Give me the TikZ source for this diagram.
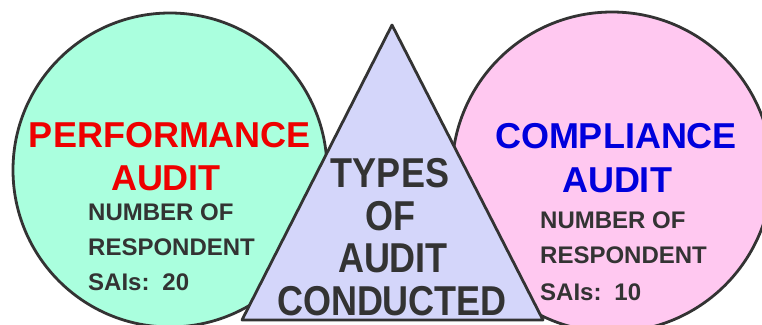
\documentclass[tikz,border=0pt]{standalone}
\usepackage{fontspec}
\setmainfont{Liberation Sans}
\definecolor{mint}{RGB}{170,255,222}
\definecolor{pinkc}{RGB}{255,200,240}
\definecolor{lav}{RGB}{212,214,250}
\definecolor{edgec}{RGB}{51,51,51}
\definecolor{redt}{RGB}{238,0,0}
\definecolor{bluet}{RGB}{0,0,220}
\definecolor{grayt}{RGB}{51,51,51}
\begin{document}
\begin{tikzpicture}[x=1pt,y=-1pt,
  shapeline/.style={draw=edgec,line width=2.8pt,line join=round},
  bigtxt/.style={inner sep=0pt,anchor=base,font=\bfseries\fontsize{36}{36}\selectfont},
  smalltxt/.style={inner sep=0pt,anchor=base west,text=grayt,font=\bfseries\fontsize{24}{24}\selectfont},
  tritxt/.style={inner sep=0pt,anchor=base,text=grayt,font=\bfseries\fontsize{36}{36}\selectfont}]
\useasboundingbox (0,0) rectangle (762,324);
\clip (0,0) rectangle (762,324);
\fill[white] (0,0) rectangle (762,324);
\draw[shapeline, fill=mint] (170,170) circle[radius=157];
\draw[shapeline, fill=pinkc] (612,172) circle[radius=160];
\coordinate (apex) at (392,25);
\coordinate (bl) at (242,320);
\coordinate (br) at (543,320);
\draw[shapeline, fill=lav] (apex) -- (bl) -- (br) -- cycle;
\node[bigtxt,text=redt] (perf) at (170,147) {PERFORMANCE};
\node[bigtxt,text=redt] (paudit) at (166,190) {AUDIT};
\node[smalltxt] (pn) at (88,220) {NUMBER OF};
\node[smalltxt] (pr) at (88,255) {RESPONDENT};
\node[smalltxt] (ps) at (88,290) {SAIs:\, 20};
\node[bigtxt,text=bluet] (comp) at (616,148) {COMPLIANCE};
\node[bigtxt,text=bluet] (caudit) at (617,192) {AUDIT};
\node[smalltxt] (cn) at (540,228) {NUMBER OF};
\node[smalltxt] (cr) at (540,263) {RESPONDENT};
\node[smalltxt] (cs) at (540,300) {SAIs:\, 10};
\node[tritxt] (t1) at (390,187) {\scalebox{1}[1.16]{TYPES}};
\node[tritxt] (t2) at (390,230) {\scalebox{1}[1.16]{OF}};
\node[tritxt] (t3) at (393,272) {\scalebox{1}[1.16]{AUDIT}};
\node[tritxt] (t4) at (392,315) {\scalebox{1}[1.16]{CONDUCTED}};
\end{tikzpicture}
\end{document}
